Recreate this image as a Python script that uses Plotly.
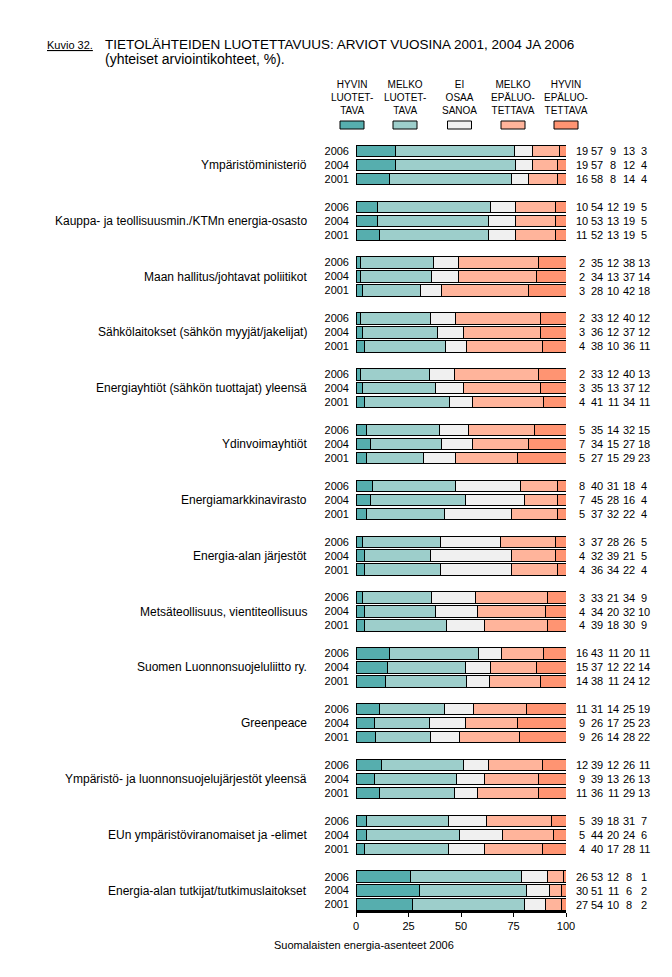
import plotly.graph_objects as go

categories = [
    "Ympäristöministeriö",
    "Kauppa- ja teollisuusmin./KTMn energia-osasto",
    "Maan hallitus/johtavat poliitikot",
    "Sähkölaitokset (sähkön myyjät/jakelijat)",
    "Energiayhtiöt (sähkön tuottajat) yleensä",
    "Ydinvoimayhtiöt",
    "Energiamarkkinavirasto",
    "Energia-alan järjestöt",
    "Metsäteollisuus, vientiteollisuus",
    "Suomen Luonnonsuojeluliitto ry.",
    "Greenpeace",
    "Ympäristö- ja luonnonsuojelujärjestöt yleensä",
    "EUn ympäristöviranomaiset ja -elimet",
    "Energia-alan tutkijat/tutkimuslaitokset",
]
years = ["2006", "2004", "2001"]
responses = ["HYVIN<br>LUOTET-<br>TAVA", "MELKO<br>LUOTET-<br>TAVA", "EI<br>OSAA<br>SANOA",
             "MELKO<br>EPÄLUO-<br>TETTAVA", "HYVIN<br>EPÄLUO-<br>TETTAVA"]

data_2006 = [
    [19, 57, 9, 13, 3], [10, 54, 12, 19, 5], [2, 35, 12, 38, 13], [2, 33, 12, 40, 12],
    [2, 33, 12, 40, 13], [5, 35, 14, 32, 15], [8, 40, 31, 18, 4], [3, 37, 28, 26, 5],
    [3, 33, 21, 34, 9], [16, 43, 11, 20, 11], [11, 31, 14, 25, 19], [12, 39, 12, 26, 11],
    [5, 39, 18, 31, 7], [26, 53, 12, 8, 1],
]
data_2004 = [
    [19, 57, 8, 12, 4], [10, 53, 13, 19, 5], [2, 34, 13, 37, 14], [3, 36, 12, 37, 12],
    [3, 35, 13, 37, 12], [7, 34, 15, 27, 18], [7, 45, 28, 16, 4], [4, 32, 39, 21, 5],
    [4, 34, 20, 32, 10], [15, 37, 12, 22, 14], [9, 26, 17, 25, 23], [9, 39, 13, 26, 13],
    [5, 44, 20, 24, 6], [30, 51, 11, 6, 2],
]
data_2001 = [
    [16, 58, 8, 14, 4], [11, 52, 13, 19, 5], [3, 28, 10, 42, 18], [4, 38, 10, 36, 11],
    [4, 41, 11, 34, 11], [5, 27, 15, 29, 23], [5, 37, 32, 22, 4], [4, 36, 34, 22, 4],
    [4, 39, 18, 30, 9], [14, 38, 11, 24, 12], [9, 26, 14, 28, 22], [11, 36, 11, 29, 13],
    [4, 40, 17, 28, 11], [27, 54, 10, 8, 2],
]

colors = ["#56AEAE", "#9DCECB", "#F0F0F0", "#FFB49B", "#FF9472"]
FONT = "Liberation Sans, Arial, sans-serif"

W, H = 672, 977
ML, MR, MT, MB = 356, 106, 143, 66
PW, PH = W - ML - MR, H - MT - MB

def px_x(px):
    return (px - ML) / PW

def px_y(py):
    return (H - MB - py) / PH

by_year = [data_2006, data_2004, data_2001]
ypos, ylab, rows = [], [], []
for g in range(len(categories)):
    for k in range(3):
        ypos.append(g * 4 + k)
        ylab.append(years[k])
        rows.append(by_year[k][g])

fig = go.Figure()
for r in range(5):
    fig.add_trace(go.Bar(
        x=[row[r] for row in rows], y=ypos, orientation="h",
        marker=dict(color=colors[r], line=dict(color="black", width=1)),
        width=0.82, showlegend=False, hoverinfo="skip",
    ))

annotations = []
# value columns on the right (column centres in pixels)
col_px = [581.5, 597, 613, 628.7, 644]
for i, row in enumerate(rows):
    for r in range(5):
        annotations.append(dict(
            x=px_x(col_px[r]), xref="paper", y=ypos[i], yref="y", text=str(row[r]),
            showarrow=False, xanchor="center", yanchor="middle",
            font=dict(family=FONT, size=11, color="black"),
        ))

for g, cat in enumerate(categories):
    annotations.append(dict(
        x=px_x(309), xref="paper", y=g * 4 + 1, yref="y", text=cat,
        showarrow=False, xanchor="right", yanchor="middle",
        font=dict(family=FONT, size=12, color="black"),
    ))

# legend
leg_cx = [352, 405, 459.5, 513, 566]
shapes = []
for i, lab in enumerate(responses):
    annotations.append(dict(
        x=px_x(leg_cx[i]), xref="paper", y=px_y(118), yref="paper", text=lab,
        showarrow=False, xanchor="center", yanchor="bottom", align="center",
        font=dict(family=FONT, size=10, color="black"),
    ))
    shapes.append(dict(
        type="rect", xref="paper", yref="paper",
        x0=px_x(leg_cx[i] - 12), x1=px_x(leg_cx[i] + 12),
        y0=px_y(129), y1=px_y(121),
        fillcolor=colors[i], line=dict(color="black", width=1),
    ))

# titles
annotations.append(dict(
    x=px_x(45), xref="paper", y=px_y(45), yref="paper", text="<u>Kuvio 32.</u>",
    showarrow=False, xanchor="left", yanchor="middle",
    font=dict(family=FONT, size=11, color="black"),
))
annotations.append(dict(
    x=px_x(103), xref="paper", y=px_y(44), yref="paper",
    text="TIETOLÄHTEIDEN LUOTETTAVUUS: ARVIOT VUOSINA 2001, 2004 JA 2006",
    showarrow=False, xanchor="left", yanchor="middle",
    font=dict(family=FONT, size=13.5, color="black"),
))
annotations.append(dict(
    x=px_x(103), xref="paper", y=px_y(59), yref="paper",
    text="(yhteiset arviointikohteet, %).",
    showarrow=False, xanchor="left", yanchor="middle",
    font=dict(family=FONT, size=14, color="black"),
))
annotations.append(dict(
    x=px_x(364), xref="paper", y=px_y(945), yref="paper",
    text="Suomalaisten energia-asenteet 2006",
    showarrow=False, xanchor="center", yanchor="middle",
    font=dict(family=FONT, size=11, color="black"),
))

y_bottom = (H - MB - 151) / 13.955
y_top = (MT - 151) / 13.955

fig.update_layout(
    width=W, height=H,
    margin=dict(l=ML, r=MR, t=MT, b=MB, autoexpand=False),
    barmode="stack", barnorm="percent",
    plot_bgcolor="white", paper_bgcolor="white",
    font=dict(family=FONT, size=11, color="black"),
    annotations=annotations, shapes=shapes,
    xaxis=dict(range=[0, 100], tickvals=[0, 25, 50, 75, 100], ticks="outside",
               ticklen=4, tickcolor="black", showline=True, linecolor="black",
               linewidth=2, showgrid=False, zeroline=False,
               tickfont=dict(family=FONT, size=11)),
    yaxis=dict(range=[y_bottom, y_top], tickvals=ypos, ticktext=ylab,
               showgrid=False, zeroline=False, showline=False, ticks="",
               ticklabelstandoff=6, tickfont=dict(family=FONT, size=11)),
)

fig.write_html("out.html", config={"displayModeBar": False},
               post_script="document.body.style.margin='0';")
